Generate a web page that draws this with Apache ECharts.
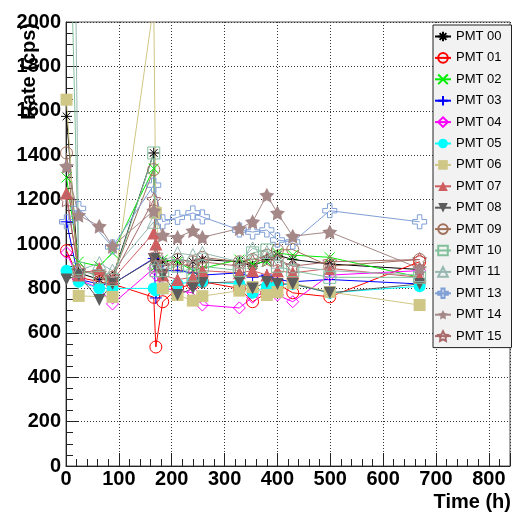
<!DOCTYPE html>
<html><head><meta charset="utf-8">
<script src="https://cdn.jsdelivr.net/npm/echarts@6/dist/echarts.min.js"></script>
<style>html,body{margin:0;padding:0;background:#fff}#c{width:513px;height:516px}</style>
</head><body><div id="c"></div>
<script>
// ---- data ----
const times = [1, 24, 63, 88, 166, 170, 183, 211, 240, 258, 328, 353, 380, 400, 429, 499, 669];
const pmt00 = [1575, 870, 840, 850, 1410, 930, 920, 930, 920, 930, 920, 900, 930, 950, 930, 910, 885];
const pmt01 = [970, 850, 830, 820, 760, 536, 740, 800, 820, 830, 800, 740, 780, 820, 780, 762, 920];
const pmt02 = [1300, 920, 900, 960, 1340, 900, 930, 920, 880, 890, 930, 910, 920, 960, 950, 940, 850];
const pmt03 = [1100, 840, 820, 820, 935, 757, 880, 880, 870, 860, 870, 850, 860, 840, 830, 840, 820];
const pmt04 = [960, 840, 800, 730, 890, 860, 800, 790, 780, 725, 712, 760, 785, 770, 740, 860, 880];
const pmt05 = [880, 830, 800, 800, 800, 790, 800, 820, 830, 830, 820, 780, 810, 815, 820, 780, 810];
const pmt06 = [1650, 766, null, 762, 2080, 1140, 800, 770, 745, 765, 790, 806, 770, 784, 824, 784, 725];
const pmt07 = [1230, 860, 890, 840, 1050, 1000, 860, 840, 850, 880, 870, 880, 860, 880, 870, 890, 850];
const pmt08 = [840, 860, 748, 820, 932, 900, 860, 770, 800, 824, 830, 800, 829, 820, 820, 780, 820];
const pmt09 = [1410, 880, 860, 850, 1335, 900, 900, 930, 920, 940, 920, 930, 950, 973, 975, 900, 930];
const pmt10 = [3150, 890, 850, 840, 1410, 880, 880, 900, 860, 900, 880, 960, 973, 900, 880, 850, 850];
const pmt11 = [6000, 880, 914, 880, 1100, 900, 920, 959, 950, 960, 920, 980, 964, 920, 900, 880, 860];
const pmt13 = [1100, 1160, null, 987, 1265, null, 1100, 1120, 1140, 1122, 1063, 1054, 1063, 1018, 1009, 1150, 1100];
const pmt14 = [1350, 1130, 1080, 990, 1150, null, 1040, 1030, 1060, 1030, 1070, 1100, 1220, 1140, 1035, 1054, 890];
const pmt15 = [1200, 880, 870, 850, 1200, 950, 900, 910, 900, 920, 900, 920, 930, 930, 900, 920, 930];
const names = ['PMT 00','PMT 01','PMT 02','PMT 03','PMT 04','PMT 05','PMT 06','PMT 07','PMT 08','PMT 09','PMT 10','PMT 11','PMT 13','PMT 14','PMT 15'];
const values = [pmt00,pmt01,pmt02,pmt03,pmt04,pmt05,pmt06,pmt07,pmt08,pmt09,pmt10,pmt11,pmt13,pmt14,pmt15];
const xTicks = [0,100,200,300,400,500,600,700,800];
const yTicks = [0,200,400,600,800,1000,1200,1400,1600,1800,2000];

// ---- styles ----
const STAR = 'path://M5,0L6.53,2.9L9.76,3.45L7.47,5.8L7.94,9.05L5,7.6L2.06,9.05L2.53,5.8L0.24,3.45L3.47,2.9Z';
const ASTER = 'path://M0,5L10,5M5,0L5,10M1.5,1.5L8.5,8.5M1.5,8.5L8.5,1.5';
const XMARK = 'path://M0,0L10,10M0,10L10,0';
const PLUS = 'path://M0,5L10,5M5,0L5,10';
const OCROSS = 'path://M3.4,0L6.6,0L6.6,3.4L10,3.4L10,6.6L6.6,6.6L6.6,10L3.4,10L3.4,6.6L0,6.6L0,3.4L3.4,3.4Z';
const DTRI = 'path://M0,0L10,0L5,9Z';
const styles = [
  {c:'#000000', s:ASTER, f:false, z:11},
  {c:'#ff0000', s:'circle', f:false, z:12},
  {c:'#00ee00', s:XMARK, f:false, z:10},
  {c:'#0000ff', s:PLUS, f:false, z:12},
  {c:'#ff00ff', s:'diamond', f:false, z:12},
  {c:'#00ffff', s:'circle', f:true, z:12},
  {c:'#cfc785', s:'rect', f:true, z:12},
  {c:'#cf5e61', s:'triangle', f:true, z:13},
  {c:'#5c5c5c', s:DTRI, f:true, z:12},
  {c:'#a0705a', s:'circle', f:false, z:12},
  {c:'#82c09c', s:'rect', f:false, z:12},
  {c:'#96b8b0', s:'triangle', f:false, z:13},
  {c:'#7f9fd6', s:OCROSS, f:false, z:14},
  {c:'#a58888', s:STAR, f:true, z:15},
  {c:'#a86a6a', s:STAR, f:false, z:14}
];

const series = names.map((n, i) => {
  const st = styles[i];
  return {
    name: n, type: 'line',
    data: times.map((t, k) => [t, values[i][k]]),
    connectNulls: true,
    symbol: st.s, symbolSize: st.z,
    showSymbol: true,
    lineStyle: {color: st.c, width: 1},
    itemStyle: st.f ? {color: st.c, borderColor: st.c, borderWidth: 0}
                    : {color: 'rgba(0,0,0,0)', borderColor: st.c, borderWidth: 1},
    emphasis: {disabled: true},
    animation: false
  };
});

const chart = echarts.init(document.getElementById('c'), null, {renderer: 'canvas'});
const F = '"Liberation Sans", Arial, sans-serif';
chart.setOption({
  backgroundColor: '#ffffff',
  animation: false,
  grid: {left: 66, right: 2, top: 22, bottom: 50, show: true, borderColor: '#555', borderWidth: 1},
  xAxis: {
    type: 'value', min: 0, max: 840, interval: 100,
    axisLine: {show: true, onZero: false, lineStyle: {color: '#222', width: 1}},
    axisTick: {show: true, inside: true, length: 13, lineStyle: {color: '#222'}},
    minorTick: {show: true, splitNumber: 5, length: 7, lineStyle: {color: '#222'}},
    splitLine: {show: true, lineStyle: {color: '#333', type: [1, 2], width: 1}},
    axisLabel: {margin: 3, fontFamily: F, fontWeight: 'bold', fontSize: 20, color: '#000',
      formatter: v => xTicks.indexOf(v) >= 0 ? String(v) : ''}
  },
  yAxis: {
    type: 'value', min: 0, max: 2000, interval: 200,
    axisLine: {show: true, onZero: false, lineStyle: {color: '#222', width: 1}},
    axisTick: {show: true, inside: true, length: 13, lineStyle: {color: '#222'}},
    minorTick: {show: true, splitNumber: 4, length: 7, lineStyle: {color: '#222'}},
    splitLine: {show: true, lineStyle: {color: '#333', type: [1, 2], width: 1}},
    axisLabel: {margin: 5, fontFamily: F, fontWeight: 'bold', fontSize: 20, color: '#000',
      formatter: v => yTicks.indexOf(v) >= 0 ? String(v) : ''}
  },
  legend: {
    orient: 'vertical', left: 433, top: 25,
    padding: [5, 10, 5, 1],
    itemWidth: 16, itemHeight: 12, itemGap: 8.4,
    backgroundColor: '#f2f2f2', borderColor: '#222', borderWidth: 1,
    textStyle: {fontFamily: F, fontSize: 13, color: '#000'},
    data: names
  },
  graphic: [
    {type: 'text', x: 29, y: 23, rotation: Math.PI / 2,
     style: {text: 'Rate (cps)', font: 'bold 20px ' + F, fill: '#000', align: 'right', verticalAlign: 'middle'}},
    {type: 'text', x: 511, y: 502,
     style: {text: 'Time (h)', font: 'bold 20px ' + F, fill: '#000', align: 'right', verticalAlign: 'middle'}}
  ],
  series: series
});
</script></body></html>
